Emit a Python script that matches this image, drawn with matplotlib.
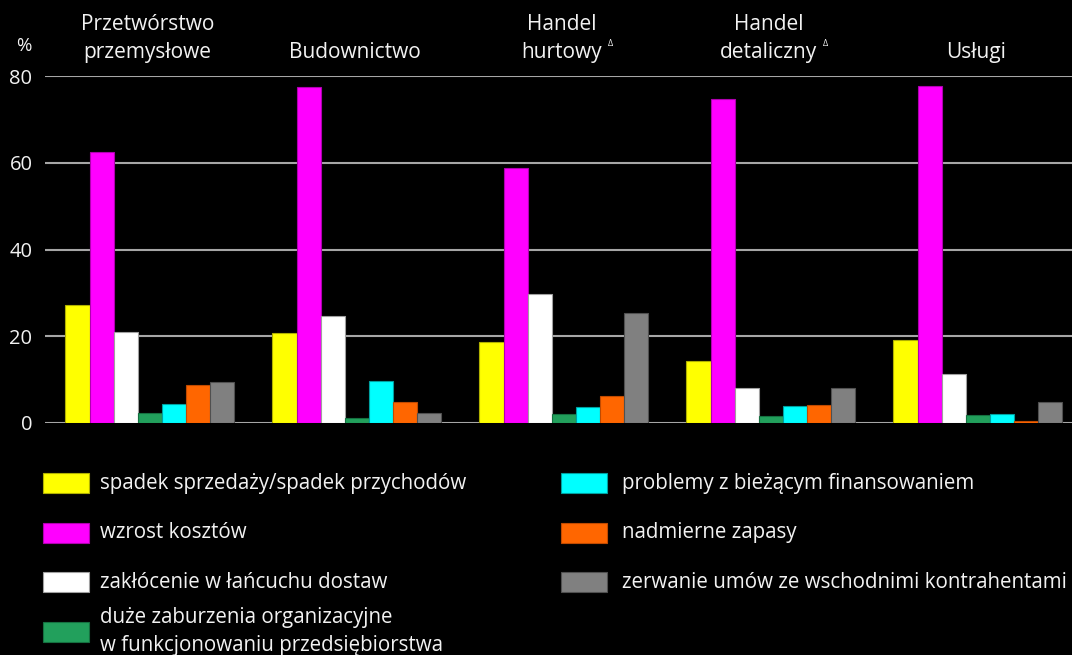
import matplotlib.pyplot as plt
from matplotlib.patches import Rectangle
import numpy as np

plt.rcParams['font.family'] = ['Open Sans', 'DejaVu Sans']

# --- data ---
groups = ["Przetwórstwo\nprzemysłowe", "Budownictwo", "Handel\nhurtowy",
          "Handel\ndetaliczny", "Usługi"]
flagged = [False, False, True, True, False]   # groups marked with a small delta

series_names = [
    "spadek sprzedaży/spadek przychodów",
    "wzrost kosztów",
    "zakłócenie w łańcuchu dostaw",
    "duże zaburzenia organizacyjne\nw funkcjonowaniu przedsiębiorstwa",
    "problemy z bieżącym finansowaniem",
    "nadmierne zapasy",
    "zerwanie umów ze wschodnimi kontrahentami",
]
spadek_sprzedazy = [27.2, 20.7, 18.7, 14.4, 19.1]
wzrost_kosztow = [62.5, 77.5, 58.8, 74.7, 77.7]
zaklocenia_dostaw = [20.9, 24.7, 29.8, 8.0, 11.2]
zaburzenia_org = [2.2, 1.1, 2.1, 1.6, 1.8]
finansowanie = [4.4, 9.7, 3.6, 4.0, 2.0]
zapasy = [8.7, 4.8, 6.2, 4.1, 0.5]
zerwanie_umow = [9.5, 2.2, 25.3, 8.0, 4.8]

yticks = [0, 20, 40, 60, 80]

values = [spadek_sprzedazy, wzrost_kosztow, zaklocenia_dostaw, zaburzenia_org,
          finansowanie, zapasy, zerwanie_umow]
colors = ['#ffff00', '#ff00ff', '#ffffff', '#22a05c', '#00ffff', '#ff6600', '#808080']
edges = ['#b0b000', '#b000b0', '#a0a0a0', '#157040', '#00a0a0', '#c04a00', '#505050']

W, H = 1072, 655
fig = plt.figure(figsize=(W / 100, H / 100), dpi=100, facecolor='black')
ax = fig.add_axes([45 / W, 1 - 423 / H, 1 - 45 / W, 347 / H])
ax.set_facecolor('black')

txt = '#f2f2f2'
x = np.arange(len(groups))
w = 0.1164
for i, (vals, c, ec) in enumerate(zip(values, colors, edges)):
    ax.bar(x + (i - 3) * w, vals, width=w, color=c, edgecolor=ec,
           linewidth=0.8, zorder=3)

ax.set_xlim(-0.506, 4.455)
ax.set_ylim(0, 80)
ax.set_yticks(yticks)
ax.set_xticks([])
ax.yaxis.grid(True, color='#a6a6a6', linewidth=1.5)
ax.set_axisbelow(True)
for s in ax.spines.values():
    s.set_visible(False)
ax.tick_params(axis='y', length=0, pad=9, labelcolor=txt, labelsize=14.5)

fig.text(24 / W, 1 - 46 / H, '%', ha='center', va='center', color=txt, fontsize=13.5)

# category labels above the bars
for xi, name, flag in zip(x, groups, flagged):
    t = ax.text(xi - 0.01, 84.2, name, ha='center', va='baseline', color=txt,
                fontsize=15, linespacing=1.42, clip_on=False)
    if flag:
        ax.annotate('Δ', xy=(1, 0.4), xycoords=t, xytext=(4, 0),
                    textcoords='offset points', ha='left', va='center',
                    color=txt, fontsize=6.5)

# legend, two columns drawn by hand
for i, (name, c, ec) in enumerate(zip(series_names, colors, edges)):
    col, row = (0, i) if i < 4 else (1, i - 4)
    px = [43, 561][col]
    tx = [100, 622][col]
    yc = 483 + row * 49.5
    fig.patches.append(Rectangle((px / W, 1 - (yc + 10) / H), 46 / W, 20 / H,
                                 transform=fig.transFigure, facecolor=c,
                                 edgecolor=ec, linewidth=0.8))
    fig.text(tx / W, 1 - yc / H, name, ha='left', va='center', color=txt,
             fontsize=14.8, linespacing=1.45)

fig.savefig('out.png', dpi=100, facecolor='black')
